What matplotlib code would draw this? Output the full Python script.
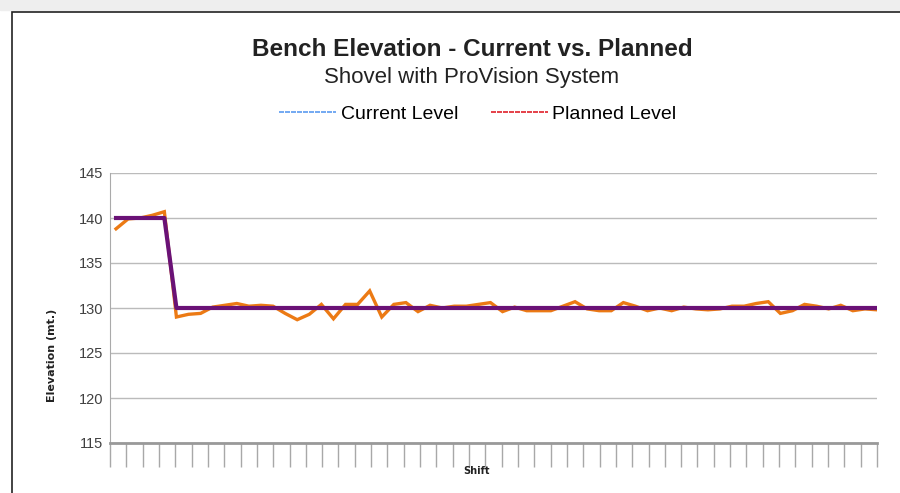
import matplotlib
matplotlib.use("Agg")
import matplotlib.pyplot as plt
from matplotlib.lines import Line2D
from matplotlib.patches import Rectangle
import numpy as np

# data
current = [138.8, 139.9, 140.0, 140.3, 140.7, 129.0, 129.3, 129.4, 130.1, 130.3,
           130.5, 130.2, 130.3, 130.2, 129.4, 128.7, 129.3, 130.4, 128.8, 130.4,
           130.4, 131.9, 129.0, 130.4, 130.6, 129.6, 130.3, 130.0, 130.2, 130.2,
           130.4, 130.6, 129.6, 130.1, 129.7, 129.7, 129.7, 130.2, 130.7, 129.9,
           129.7, 129.7, 130.6, 130.2, 129.7, 130.0, 129.7, 130.1, 129.9, 129.8,
           129.9, 130.2, 130.2, 130.5, 130.7, 129.4, 129.7, 130.4, 130.2, 129.9,
           130.3, 129.7, 129.9, 129.8]
planned = [140] * 5 + [130] * 59
yticks = [115, 120, 125, 130, 135, 140, 145]
n_ticks = 48

sans = ["Liberation Sans", "DejaVu Sans"]

fig = plt.figure(figsize=(9, 4.93), dpi=100)
ax = fig.add_axes([110 / 900, 1 - 443 / 493, 767 / 900, 270 / 493])

x = np.arange(len(current))
ax.plot(x, current, color="#EC7A14", lw=2.4, solid_joinstyle="miter", zorder=3)
ax.plot(x, planned, color="#6A1276", lw=3.0, zorder=4)

ax.set_xlim(-0.5, len(current) - 1)
ax.set_ylim(115, 145)
ax.set_yticks(yticks)
ax.set_yticklabels([str(v) for v in yticks], family=sans, fontsize=10.5, color="#404040")
ax.set_xticks(np.linspace(-0.5, len(current) - 1, n_ticks))
ax.set_xticklabels([])
ax.tick_params(axis="x", length=17, width=1, color="#A8A8A8", direction="out")
ax.tick_params(axis="y", length=0, pad=5)
ax.grid(axis="y", color="#BBBBBB", lw=1)
ax.set_axisbelow(True)
for s in ["top", "right"]:
    ax.spines[s].set_visible(False)
ax.spines["left"].set_color("#AAAAAA")
ax.spines["bottom"].set_color("#999999")
ax.spines["bottom"].set_linewidth(2)

fig.text(52 / 900, 1 - 355 / 493, "Elevation (mt.)", family="DejaVu Sans", fontweight="bold",
         fontsize=8, rotation=90, ha="center", va="center", color="#222222")
fig.text(477 / 900, 1 - 471 / 493, "Shift", family="DejaVu Sans", fontweight="bold",
         fontsize=7, ha="center", va="center", color="#222222")

fig.text(472 / 900, 1 - 49 / 493, "Bench Elevation - Current vs. Planned", family=sans,
         fontweight="bold", fontsize=17.5, ha="center", va="center", color="#222222")
fig.text(472 / 900, 1 - 78 / 493, "Shovel with ProVision System", family=sans,
         fontsize=16, ha="center", va="center", color="#222222")

handles = [Line2D([], [], color="#5B9BF0", lw=1.2, ls=(0, (3, 0.6))),
           Line2D([], [], color="#E0202A", lw=1.2, ls=(0, (3, 0.6)))]
fig.legend(handles, ["Current Level", "Planned Level"], loc="center",
           bbox_to_anchor=(478 / 900, 1 - 114 / 493), ncol=2, frameon=False,
           prop={"family": sans, "size": 14}, handlelength=2.9, handletextpad=0.25,
           columnspacing=1.7)

# outer frame of the original figure
fig.patches.append(Rectangle((12 / 900, -0.1), 1.2, 1 - 12 / 493 + 0.1,
                             transform=fig.transFigure, fill=False,
                             edgecolor="#222222", lw=1.2))
fig.patches.append(Rectangle((0, 1 - 10 / 493), 1, 10 / 493, transform=fig.transFigure,
                             color="#EEEEEE", zorder=-1))

fig.savefig("out.png", dpi=100)
